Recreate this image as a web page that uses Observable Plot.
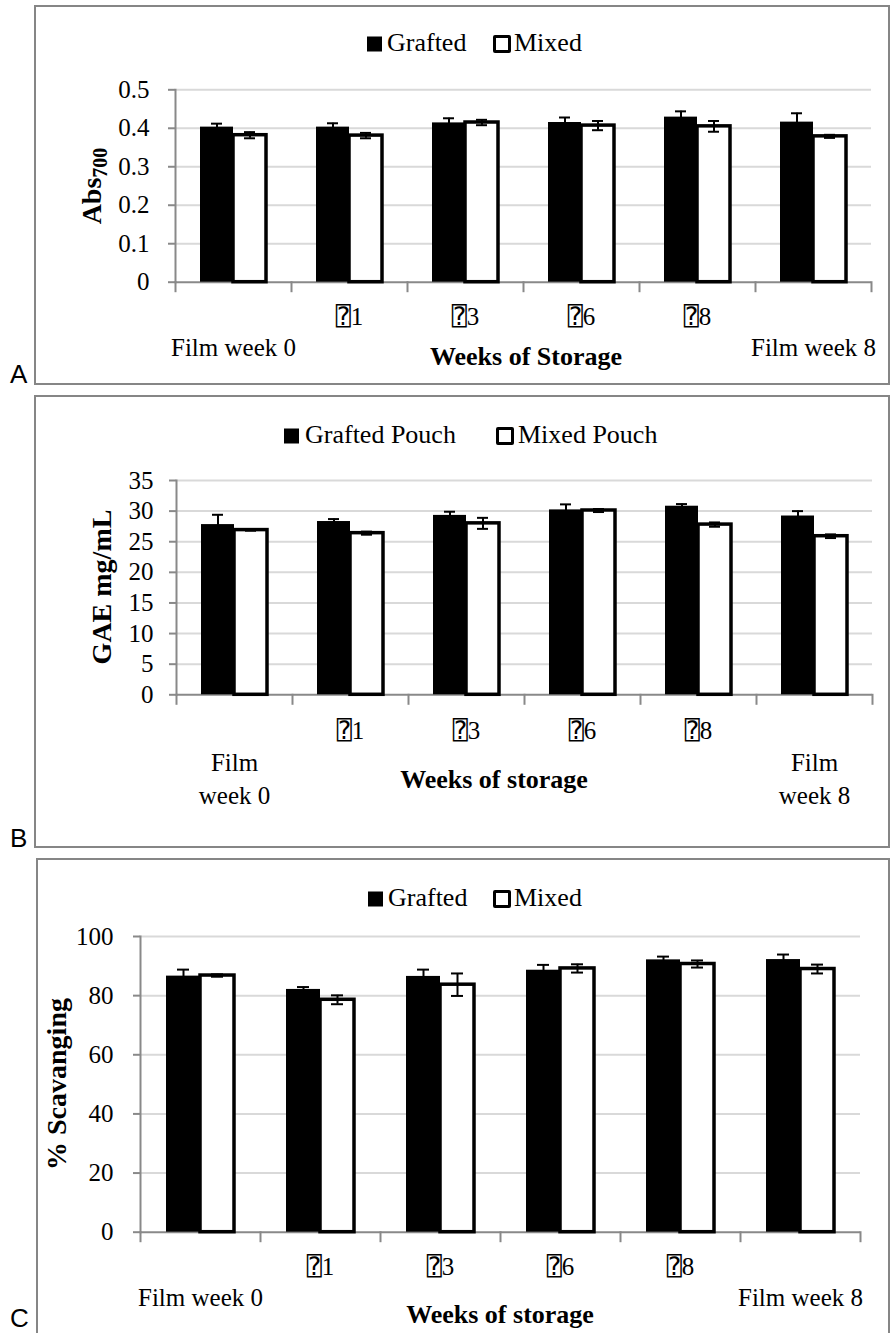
<!DOCTYPE html>
<html>
<head>
<meta charset="utf-8">
<script src="https://cdn.jsdelivr.net/npm/d3@7"></script>
<script src="https://cdn.jsdelivr.net/npm/@observablehq/plot@0.6"></script>
<style>
  body { margin: 0; background: #fff; }
  #page { position: relative; width: 890px; height: 1333px; overflow: hidden;
          font-family: "Liberation Serif", serif; color: #000; }
  .chart { position: absolute; left: 0; }
  .frame { position: absolute; border: 2px solid #868686; box-sizing: border-box; pointer-events: none; }
  .t { position: absolute; white-space: nowrap; line-height: 1; font-family: "Liberation Serif", serif; }
  .leg { font-size: 26px; transform: translateY(-50%); }
  .sw-fill { position: absolute; width: 15px; height: 15px; background: #000; transform: translateY(-50%); }
  .sw-open { position: absolute; width: 18px; height: 18px; border: 3.5px solid #000; background: #fff;
             box-sizing: border-box; border-radius: 2px; transform: translateY(-50%); }
  .xtitle { font-size: 26px; font-weight: bold; transform: translate(-50%, -50%); }
  .ytitle { font-size: 28px; font-weight: bold; transform: translate(-50%, -50%) rotate(-90deg); }
  .ytitle sub { font-size: 20px; vertical-align: -0.3em; }
  .letter { font-family: "Liberation Sans", Arial, sans-serif; font-size: 26px; transform: translateY(-50%); }
</style>
</head>
<body>
<div id="page"></div>
<script>
// Storage time points (shared by the three panels)
const categories = ["Film week 0", "⍰1", "⍰3", "⍰6", "⍰8", "Film week 8"];

// A: reducing power (Abs700)
const seriesA = ["Grafted", "Mixed"];
const absGrafted    = [0.403, 0.403, 0.414, 0.415, 0.429, 0.416];
const absGraftedErr = [0.009, 0.010, 0.012, 0.013, 0.015, 0.023];
const absMixed      = [0.382, 0.381, 0.415, 0.407, 0.405, 0.379];
const absMixedErr   = [0.008, 0.007, 0.007, 0.012, 0.014, 0.004];
const ticksA = [0, 0.1, 0.2, 0.3, 0.4, 0.5];
const labelsA = ["Film week 0", "⍰1", "⍰3", "⍰6", "⍰8", "Film week 8"];

// B: total phenolics (GAE mg/mL)
const seriesB = ["Grafted Pouch", "Mixed Pouch"];
const gaeGrafted    = [27.8, 28.3, 29.3, 30.2, 30.8, 29.2];
const gaeGraftedErr = [1.6, 0.4, 0.6, 0.9, 0.35, 0.8];
const gaeMixed      = [26.9, 26.4, 28.0, 30.1, 27.8, 25.9];
const gaeMixedErr   = [0.1, 0.25, 0.9, 0.25, 0.35, 0.3];
const ticksB = [0, 5, 10, 15, 20, 25, 30, 35];
const labelsB = ["Film\nweek 0", "⍰1", "⍰3", "⍰6", "⍰8", "Film\nweek 8"];

// C: radical scavenging (%)
const seriesC = ["Grafted", "Mixed"];
const scavGrafted    = [86.6, 82.1, 86.5, 88.6, 92.1, 92.2];
const scavGraftedErr = [2.2, 0.8, 2.3, 1.8, 1.1, 1.7];
const scavMixed      = [86.8, 78.6, 83.7, 89.2, 90.7, 89.0];
const scavMixedErr   = [0.4, 1.5, 3.8, 1.4, 1.2, 1.5];
const ticksC = [0, 20, 40, 60, 80, 100];
const labelsC = ["Film week 0", "⍰1", "⍰3", "⍰6", "⍰8", "Film week 8"];

const axisGray = "#898989";
const gridGray = "#d9d9d9";
const fontStack = '"Liberation Serif", "DejaVu Sans Mono", "DejaVu Sans", serif';

function panel(cfg) {
  const {series, grafted, graftedErr, mixed, mixedErr, labels, yTicks, yFormat,
         height, marginTop, marginBottom, marginLeft, marginRight, tickPadding,
         row1Dy, row2Dy, lineHeight} = cfg;
  const rows = categories.flatMap((c, i) => [
    {cat: c, series: series[0], value: grafted[i], err: graftedErr[i]},
    {cat: c, series: series[1], value: mixed[i], err: mixedErr[i]}
  ]);
  const tickRows = categories.map((c, i) => ({cat: c, text: labels[i]}));
  const isLower = (d) => d.text.startsWith("Film");
  const plotH = height - marginTop - marginBottom;
  const tickLen = 9;
  return Plot.plot({
    width: 890, height, marginTop, marginBottom, marginLeft, marginRight,
    style: {fontFamily: fontStack, fontSize: "25px", background: "transparent", color: "#000"},
    fx: {domain: categories, padding: 0, axis: null, label: null},
    x: {domain: series, paddingInner: 0, paddingOuter: 0.75, axis: null, label: null},
    y: {domain: [yTicks[0], yTicks[yTicks.length - 1]], axis: null, label: null},
    marks: [
      Plot.gridY(yTicks.slice(1), {stroke: gridGray, strokeOpacity: 1, strokeWidth: 2}),
      Plot.ruleY([0], {stroke: axisGray, strokeWidth: 2}),
      // category separators below the baseline
      Plot.frame({anchor: "left", insetTop: plotH, insetBottom: -tickLen, stroke: axisGray, strokeWidth: 2}),
      Plot.frame({anchor: "right", facetAnchor: "right", insetTop: plotH, insetBottom: -tickLen, stroke: axisGray, strokeWidth: 2}),
      // vertical value axis
      Plot.frame({anchor: "left", facetAnchor: "left", stroke: axisGray, strokeWidth: 2}),
      Plot.axisY({ticks: yTicks, tickSize: 7, tickPadding, tickFormat: yFormat, label: null,
                  stroke: axisGray, strokeWidth: 2, fontSize: 25}),
      Plot.barY(rows.filter((d) => d.series === series[0]),
                {fx: "cat", x: "series", y: "value", fill: "#000"}),
      Plot.barY(rows.filter((d) => d.series === series[1]),
                {fx: "cat", x: "series", y: "value", fill: "#fff", stroke: "#000", strokeWidth: 3.5}),
      Plot.ruleX(rows, {fx: "cat", x: "series", y1: (d) => d.value - d.err, y2: (d) => d.value + d.err,
                        stroke: "#000", strokeWidth: 2}),
      Plot.tickY(rows, {fx: "cat", x: "series", y: (d) => d.value + d.err,
                        insetLeft: 11, insetRight: 11, stroke: "#000", strokeWidth: 2}),
      Plot.tickY(rows, {fx: "cat", x: "series", y: (d) => d.value - d.err,
                        insetLeft: 11, insetRight: 11, stroke: "#000", strokeWidth: 2}),
      Plot.text(tickRows.filter((d) => !isLower(d)),
                {fx: "cat", text: "text", frameAnchor: "bottom", dy: row1Dy, lineAnchor: "middle",
                 fontSize: 25, fill: "#000"}),
      Plot.text(tickRows.filter(isLower),
                {fx: "cat", text: "text", frameAnchor: "bottom", dy: row2Dy, lineAnchor: "middle",
                 lineHeight, fontSize: 25, fill: "#000"})
    ]
  });
}

const page = document.getElementById("page");
function add(html) { page.insertAdjacentHTML("beforeend", html); }
function place(svg, top) {
  const div = document.createElement("div");
  div.className = "chart";
  div.style.top = top + "px";
  div.appendChild(svg);
  page.appendChild(div);
}

const fmt1 = (d) => d === 0 ? "0" : d3.format(".1f")(d);

// Panel A
place(panel({
  series: seriesA, grafted: absGrafted, graftedErr: absGraftedErr, mixed: absMixed, mixedErr: absMixedErr,
  labels: labelsA, yTicks: ticksA, yFormat: fmt1,
  height: 390, marginTop: 89.3, marginBottom: 108.3, marginLeft: 172, marginRight: 17,
  tickPadding: 19, row1Dy: 35, row2Dy: 66, lineHeight: 1
}), 0);

// Panel B
place(panel({
  series: seriesB, grafted: gaeGrafted, graftedErr: gaeGraftedErr, mixed: gaeMixed, mixedErr: gaeMixedErr,
  labels: labelsB, yTicks: ticksB, yFormat: (d) => String(d),
  height: 460, marginTop: 90, marginBottom: 155.7, marginLeft: 175, marginRight: 16.7,
  tickPadding: 16, row1Dy: 36, row2Dy: 82, lineHeight: 1.32
}), 390);

// Panel C
place(panel({
  series: seriesC, grafted: scavGrafted, graftedErr: scavGraftedErr, mixed: scavMixed, mixedErr: scavMixedErr,
  labels: labelsC, yTicks: ticksC, yFormat: (d) => String(d),
  height: 481, marginTop: 84, marginBottom: 101.3, marginLeft: 138, marginRight: 28.3,
  tickPadding: 20, row1Dy: 35, row2Dy: 66, lineHeight: 1
}), 852);

// Legends
add(`<div class="sw-fill" style="left:367px;top:44px"></div>
<div class="t leg" style="left:387px;top:43px">${seriesA[0]}</div>
<div class="sw-open" style="left:493px;top:44px"></div>
<div class="t leg" style="left:514px;top:43px">${seriesA[1]}</div>`);
add(`<div class="sw-fill" style="left:284px;top:436px"></div>
<div class="t leg" style="left:305px;top:435px">${seriesB[0]}</div>
<div class="sw-open" style="left:496px;top:436px"></div>
<div class="t leg" style="left:518px;top:435px">${seriesB[1]}</div>`);
add(`<div class="sw-fill" style="left:368px;top:899px"></div>
<div class="t leg" style="left:388px;top:898px">${seriesC[0]}</div>
<div class="sw-open" style="left:493px;top:899px"></div>
<div class="t leg" style="left:514px;top:898px">${seriesC[1]}</div>`);

// Axis titles
add(`<div class="t xtitle" style="left:526px;top:357px">Weeks of Storage</div>`);
add(`<div class="t xtitle" style="left:494px;top:780px">Weeks of storage</div>`);
add(`<div class="t xtitle" style="left:500px;top:1315px">Weeks of storage</div>`);
add(`<div class="t ytitle" style="left:94px;top:186px">Abs<sub>700</sub></div>`);
add(`<div class="t ytitle" style="left:102px;top:587px">GAE mg/mL</div>`);
add(`<div class="t ytitle" style="left:57px;top:1084px">% Scavanging</div>`);

// Panel borders and letters
add(`<div class="frame" style="left:34px;top:5px;width:856px;height:380px"></div>`);
add(`<div class="frame" style="left:34px;top:395px;width:856px;height:453px"></div>`);
add(`<div class="frame" style="left:36px;top:858px;width:854px;height:477px"></div>`);
add(`<div class="t letter" style="left:10px;top:374px">A</div>`);
add(`<div class="t letter" style="left:10px;top:838px">B</div>`);
add(`<div class="t letter" style="left:10px;top:1318px">C</div>`);
</script>
</body>
</html>
